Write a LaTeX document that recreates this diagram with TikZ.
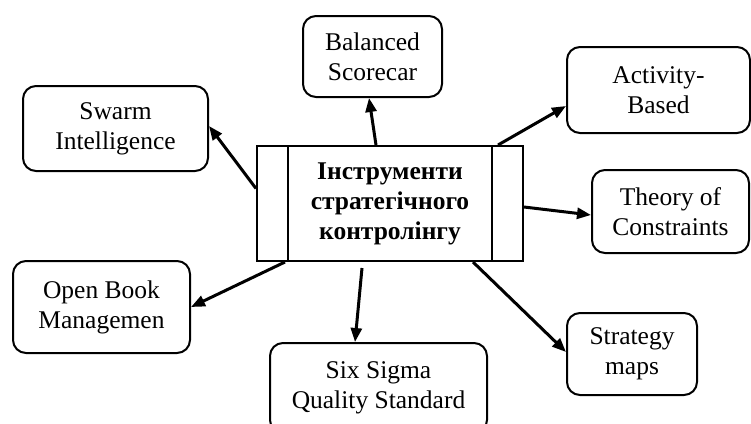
\documentclass[tikz,border=0pt]{standalone}
\usepackage{fontspec}
\setmainfont{Liberation Serif}
\usetikzlibrary{arrows.meta}
\begin{document}
\begin{tikzpicture}[x=1pt,y=-1pt,
  tool/.style={draw,line width=2pt,rounded corners=13pt,align=center,inner sep=0pt,
    font=\fontsize{25.5}{30}\selectfont},
  conn/.style={line width=3pt,-{Triangle[length=14pt,width=11pt]}}]
\clip (0,0) rectangle (751,423);
\fill[white] (0,0) rectangle (751,423);
\node[draw,line width=2pt,minimum width=266pt,minimum height=115pt,inner sep=0pt,align=center,
  font=\bfseries\fontsize{25.5}{30}\selectfont] (c) at (390,203.5) {Інструменти\\стратегічного\\контролінгу};
\draw[line width=2pt] ([xshift=32pt]c.north west) -- ([xshift=32pt]c.south west);
\draw[line width=2pt] ([xshift=-32pt]c.north east) -- ([xshift=-32pt]c.south east);
\node[tool,minimum width=139pt,minimum height=81pt] (bal) at (372.5,56.5) {Balanced\\Scorecar};
\node[tool,minimum width=185pt,minimum height=85pt] (swarm) at (115.5,128.5) {Swarm\\Intelligence};
\node[tool,minimum width=183pt,minimum height=86pt] (act) at (658.5,90) {Activity-\\Based};
\node[tool,minimum width=157pt,minimum height=83pt] (theory) at (670.5,211.5) {Theory of\\Constraints};
\node[tool,minimum width=130pt,minimum height=82pt] (strat) at (632,354) {Strategy\\maps};
\node[tool,minimum width=177pt,minimum height=92pt] (open) at (101.5,307) {Open Book\\Managemen};
\node[tool,minimum width=217pt,minimum height=90pt] (six) at (378.5,388) {Six Sigma\\Quality Standard};
\draw[conn] ([yshift=15pt]c.west) -- ([yshift=2.5pt]swarm.east);
\draw[conn] ([xshift=-14pt]c.north) -- ([xshift=-3.5pt]bal.south);
\draw[conn] ([xshift=108pt]c.north) -- ([yshift=-16pt]act.west);
\draw[conn] ([yshift=-3.5pt]c.east) -- ([yshift=-3.5pt]theory.west);
\draw[conn] ([xshift=83pt]c.south) -- ([yshift=2pt]strat.west);
\draw[conn] ([xshift=-28pt,yshift=-6pt]c.south) -- ([xshift=-23.5pt]six.north);
\draw[conn] ([xshift=-105pt]c.south) -- (open.east);
\end{tikzpicture}
\end{document}
